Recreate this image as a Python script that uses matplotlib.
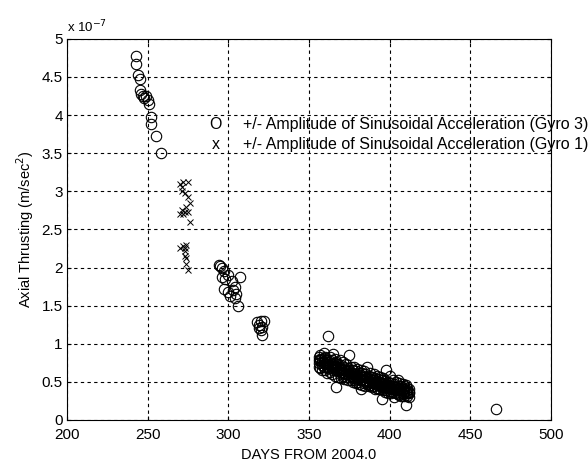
import matplotlib
matplotlib.use("Agg")
import matplotlib.pyplot as plt
from matplotlib.ticker import FuncFormatter

# Gyro 3 (circles), values in units of 1e-7 m/sec^2
g3_days = [243, 243, 244, 245, 245, 246, 247, 248, 249, 250, 251, 252, 252, 255, 258,
           294, 295, 296, 297, 296, 298, 300, 302, 304, 305, 303, 306, 297, 300, 307, 301, 304,
           318, 319, 320, 321, 322, 320, 321, 319, 466]
g3_vals = [4.78, 4.67, 4.52, 4.48, 4.33, 4.28, 4.25, 4.22, 4.25, 4.20, 4.15, 3.98, 3.88, 3.72, 3.50,
           2.03, 2.02, 2.00, 1.95, 1.88, 1.85, 1.90, 1.82, 1.75, 1.65, 1.70, 1.50, 1.72, 1.68, 1.87, 1.62, 1.60,
           1.28, 1.25, 1.30, 1.22, 1.30, 1.18, 1.12, 1.20, 0.15]

# Dense late cluster of Gyro 3 points
cluster_days = [356, 357, 358, 359, 360, 361, 362, 363, 364, 365, 366, 367, 368, 369, 370,
                371, 372, 373, 374, 375, 376, 377, 378, 379, 380, 381, 382, 383, 384, 385,
                386, 387, 388, 389, 390, 391, 392, 393, 394, 395, 396, 397, 398, 399, 400,
                401, 402, 403, 404, 405, 406, 407, 408, 409, 410, 411, 412]
cluster_hi = [0.82, 0.85, 0.80, 0.88, 0.83, 0.79, 1.10, 0.82, 0.78, 0.86, 0.80, 0.76, 0.74, 0.79, 0.72,
              0.76, 0.70, 0.73, 0.68, 0.85, 0.70, 0.66, 0.69, 0.64, 0.67, 0.62, 0.65, 0.61, 0.64, 0.60,
              0.70, 0.58, 0.62, 0.57, 0.60, 0.55, 0.58, 0.54, 0.56, 0.52, 0.55, 0.51, 0.65, 0.50, 0.58,
              0.49, 0.52, 0.47, 0.50, 0.52, 0.48, 0.45, 0.47, 0.44, 0.46, 0.42, 0.40]
cluster_mid = [0.75, 0.78, 0.72, 0.76, 0.74, 0.70, 0.76, 0.72, 0.68, 0.74, 0.70, 0.66, 0.64, 0.68, 0.63,
               0.66, 0.61, 0.64, 0.60, 0.66, 0.62, 0.58, 0.60, 0.56, 0.58, 0.55, 0.57, 0.54, 0.56, 0.52,
               0.55, 0.51, 0.54, 0.50, 0.52, 0.48, 0.50, 0.47, 0.49, 0.45, 0.47, 0.44, 0.46, 0.43, 0.45,
               0.42, 0.44, 0.40, 0.43, 0.41, 0.40, 0.39, 0.40, 0.37, 0.38, 0.36, 0.35]
cluster_mid2 = [0.79, 0.80, 0.76, 0.81, 0.78, 0.74, 0.71, 0.77, 0.73, 0.70, 0.75, 0.71, 0.69, 0.65, 0.67,
                0.62, 0.66, 0.60, 0.64, 0.61, 0.58, 0.62, 0.55, 0.60, 0.54, 0.59, 0.53, 0.57, 0.51, 0.56,
                0.50, 0.55, 0.49, 0.53, 0.48, 0.52, 0.46, 0.51, 0.44, 0.49, 0.43, 0.48, 0.42, 0.46, 0.41,
                0.45, 0.40, 0.43, 0.39, 0.44, 0.37, 0.42, 0.36, 0.41, 0.35, 0.39, 0.37]
cluster_lo = [0.70, 0.68, 0.65, 0.70, 0.66, 0.62, 0.68, 0.63, 0.60, 0.65, 0.58, 0.43, 0.57, 0.60, 0.55,
              0.58, 0.54, 0.56, 0.52, 0.57, 0.53, 0.50, 0.52, 0.49, 0.50, 0.47, 0.40, 0.46, 0.48, 0.45,
              0.47, 0.44, 0.46, 0.43, 0.44, 0.41, 0.42, 0.40, 0.41, 0.28, 0.39, 0.37, 0.39, 0.36, 0.38,
              0.35, 0.37, 0.30, 0.36, 0.34, 0.33, 0.32, 0.34, 0.31, 0.20, 0.32, 0.30]

# Gyro 1 (crosses)
g1_days = [270, 272, 275, 271, 273, 275, 276, 271, 273, 275, 270, 276,
           272, 274, 270, 273, 274, 274, 275, 273, 271, 272, 274, 273]
g1_vals = [3.10, 3.12, 3.12, 3.00, 2.98, 2.92, 2.85, 2.75, 2.73, 2.73, 2.70, 2.60,
           2.28, 2.30, 2.25, 2.22, 2.12, 2.05, 1.97, 2.15, 3.06, 2.70, 2.80, 2.26]

x_ticks = [200, 250, 300, 350, 400, 450, 500]
y_ticks = [0, 0.5, 1, 1.5, 2, 2.5, 3, 3.5, 4, 4.5, 5]

plt.rcParams["font.family"] = ["Liberation Sans", "DejaVu Sans"]

fig = plt.figure(figsize=(5.88, 4.63), dpi=100)
ax = fig.add_axes([0.114, 0.093, 0.823, 0.823])

circle = dict(marker="o", linestyle="none", markersize=7.5, markerfacecolor="none",
              markeredgecolor="black", markeredgewidth=0.8)
ax.plot(g3_days, g3_vals, **circle)
ax.plot(cluster_days * 4,
        cluster_hi + cluster_mid + cluster_mid2 + cluster_lo, **circle)
ax.plot(g1_days, g1_vals, marker="x", linestyle="none", markersize=5,
        color="black", markeredgewidth=0.7)

ax.set_xlim(200, 500)
ax.set_ylim(0, 5)
ax.set_xticks(x_ticks)
ax.set_yticks(y_ticks)
ax.yaxis.set_major_formatter(FuncFormatter(lambda v, p: "%g" % v))
ax.tick_params(direction="in", labelsize=11, top=True, right=True, length=3)
ax.tick_params(axis="x", pad=6)
ax.tick_params(axis="y", pad=3)
ax.grid(True, color="black", linestyle=(0, (3, 3)), linewidth=0.8)
for s in ax.spines.values():
    s.set_linewidth(0.8)

ax.set_xlabel("DAYS FROM 2004.0", fontsize=10.5, labelpad=4)
ax.set_ylabel("Axial Thrusting (m/sec$^2$)", fontsize=10.5, labelpad=4)
ax.text(0.0, 1.01, r"x 10$^{-7}$", transform=ax.transAxes, fontsize=9.5, ha="left", va="bottom")

ax.text(292, 3.88, "O", fontsize=11.5, ha="center", va="center")
ax.text(309, 3.88, "+/- Amplitude of Sinusoidal Acceleration (Gyro 3)", fontsize=11.5,
        va="center", clip_on=False)
ax.text(292, 3.61, "x", fontsize=11.5, ha="center", va="center")
ax.text(309, 3.61, "+/- Amplitude of Sinusoidal Acceleration (Gyro 1)", fontsize=11.5,
        va="center", clip_on=False)

fig.savefig("out.png", dpi=100)
